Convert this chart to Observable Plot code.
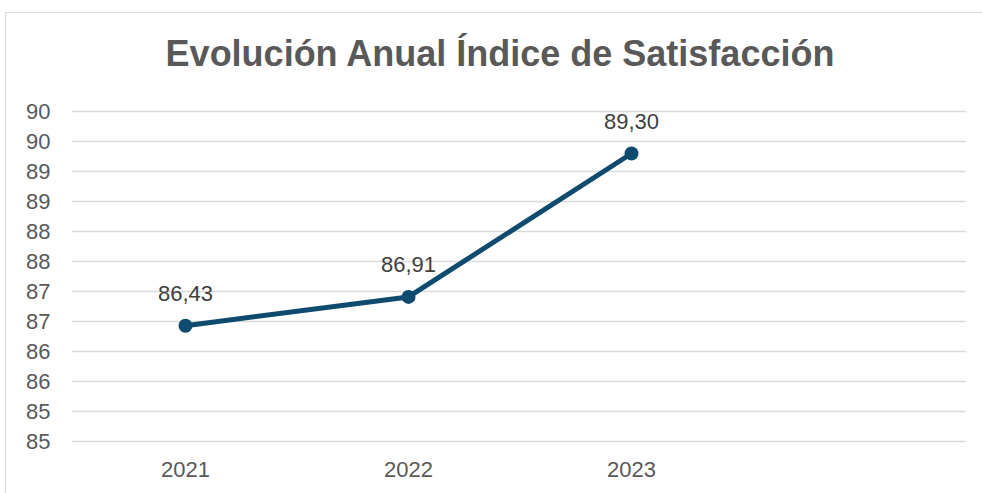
<!DOCTYPE html>
<html>
<head>
<meta charset="utf-8">
<script src="https://cdn.jsdelivr.net/npm/d3@7"></script>
<script src="https://cdn.jsdelivr.net/npm/@observablehq/plot@0.6"></script>
<style>
  html, body { margin: 0; padding: 0; background: #fff; }
  #wrap { position: relative; width: 982px; height: 493px; overflow: hidden; font-family: "Liberation Sans", Arial, sans-serif; }
  #frame { position: absolute; left: 5px; top: 12px; width: 1000px; height: 520px; border: 1.5px solid #d9d9d9; box-sizing: border-box; }
  #title { position: absolute; left: 0; top: 36px; width: 1000px; text-align: center; font-size: 36px; line-height: 1; font-weight: bold; color: #595959; white-space: nowrap; }
  #chart { position: absolute; left: 0; top: 80px; }
</style>
</head>
<body>
<div id="wrap">
  <div id="frame"></div>
  <div id="title">Evolución Anual Índice de Satisfacción</div>
  <div id="chart"></div>
</div>
<script>
const years = ["2021", "2022", "2023"];
const values = [86.43, 86.91, 89.30];
const xDomain = ["2021", "2022", "2023", ""];
const yTicks = [84.5, 85, 85.5, 86, 86.5, 87, 87.5, 88, 88.5, 89, 89.5, 90];
const yTickLabels = ["85", "85", "86", "86", "87", "87", "88", "88", "89", "89", "90", "90"];

const data = years.map((year, i) => ({year, value: values[i]}));
const fmt = v => v.toFixed(2).replace(".", ",");

const chart = Plot.plot({
  width: 982,
  height: 413,
  marginTop: 31,
  marginBottom: 52,
  marginLeft: 72,
  marginRight: 16,
  style: { fontFamily: "'Liberation Sans', Arial, sans-serif", color: "#595959", background: "transparent" },
  x: { type: "point", domain: xDomain, padding: 0.5 },
  y: { domain: [84.5, 90] },
  marks: [
    Plot.ruleY(yTicks, { stroke: "#d9d9d9", strokeWidth: 1.5 }),
    Plot.axisY({ ticks: yTicks, tickFormat: d => yTickLabels[yTicks.indexOf(d)], tickSize: 0, tickPadding: 22, fontSize: 22, label: null }),
    Plot.axisX({ tickSize: 0, tickPadding: 20, fontSize: 22, label: null }),
    Plot.line(data, { x: "year", y: "value", stroke: "#0e4b6e", strokeWidth: 5, strokeLinecap: "round" }),
    Plot.dot(data, { x: "year", y: "value", r: 7, fill: "#0e4b6e", stroke: "none" }),
    Plot.text(data, { x: "year", y: "value", text: d => fmt(d.value), dy: -32, fontSize: 22, fill: "#404040", textAnchor: "middle" })
  ]
});
document.getElementById("chart").appendChild(chart);
</script>
</body>
</html>
